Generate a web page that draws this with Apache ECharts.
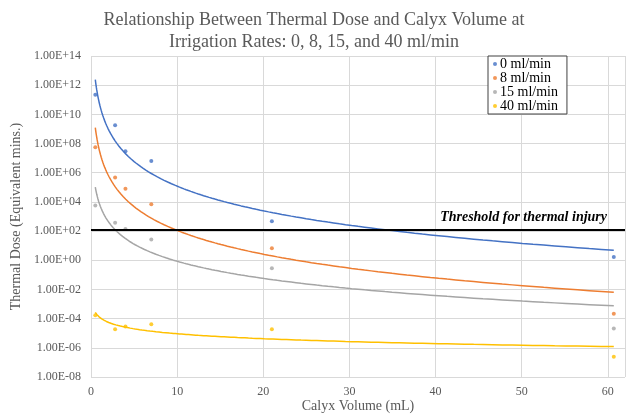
<!DOCTYPE html>
<html>
<head>
<meta charset="utf-8">
<script src="https://cdn.jsdelivr.net/npm/echarts@6/dist/echarts.min.js"></script>
<style>
html,body{margin:0;padding:0;background:#fff;}
#chart{width:628px;height:414px;}
</style>
</head>
<body>
<div id="chart"></div>
<script>
// ---- data ----
const calyxVolume = [0.5, 2.8, 4, 7, 21, 60.7];
const seriesNames = ['0 ml/min', '8 ml/min', '15 ml/min', '40 ml/min'];
const dose0  = [2.2e11, 1.8e9, 3.0e7, 6.3e6, 4.7e2, 1.7];
const dose8  = [5.5e7, 4.8e5, 8.0e4, 7.0e3, 6.6, 2.2e-4];
const dose15 = [5.6e3, 3.8e2, 1.4e2, 27, 0.28, 2.1e-5];
const dose40 = [1.7e-4, 1.9e-5, 2.9e-5, 4.2e-5, 1.9e-5, 2.4e-7];
const thresholdValue = 120;
const thresholdLabel = 'Threshold for thermal injury';
const yTickExpMin = -8, yTickExpMax = 14;

const colors = ['#4472C4', '#ED7D31', '#A5A5A5', '#FFC000'];
const FONT = '"Liberation Serif", "Times New Roman", serif';
const TXT = '#595959';

// power trendline (least squares in log-log space, like Excel's power trendline)
function powerFit(xs, ys) {
  const lx = xs.map(Math.log10), ly = ys.map(Math.log10);
  const n = lx.length;
  const mx = lx.reduce((a, b) => a + b, 0) / n;
  const my = ly.reduce((a, b) => a + b, 0) / n;
  let sxy = 0, sxx = 0;
  for (let i = 0; i < n; i++) { sxy += (lx[i] - mx) * (ly[i] - my); sxx += (lx[i] - mx) * (lx[i] - mx); }
  const b = sxy / sxx, a = my - b * mx;
  const x0 = Math.min(...xs), x1 = Math.max(...xs);
  const pts = [];
  const N = 200;
  for (let i = 0; i <= N; i++) {
    const x = Math.pow(10, Math.log10(x0) + (Math.log10(x1) - Math.log10(x0)) * i / N);
    pts.push([x, Math.pow(10, a + b * Math.log10(x))]);
  }
  return pts;
}

const allDose = [dose0, dose8, dose15, dose40];
const series = [];
allDose.forEach((d, i) => {
  series.push({
    name: seriesNames[i] + ' trend', type: 'line', data: powerFit(calyxVolume, d),
    showSymbol: false, symbol: 'none', silent: true,
    lineStyle: { color: colors[i], width: 1.5 }, z: 2
  });
});
allDose.forEach((d, i) => {
  series.push({
    name: seriesNames[i], type: 'scatter',
    data: calyxVolume.map((x, j) => [x, d[j]]),
    symbol: 'circle', symbolSize: 4,
    itemStyle: { color: colors[i] }, z: 4
  });
});
series[0].markLine = {
  silent: true, symbol: ['none', 'none'],
  lineStyle: { color: '#000', width: 2, type: 'solid' },
  label: { show: false },
  data: [{ yAxis: thresholdValue }]
};

function fmtE(v) {
  const e = Math.round(Math.log10(v));
  const m = v / Math.pow(10, e);
  const s = e < 0 ? '-' : '+';
  const ae = Math.abs(e);
  return m.toFixed(2) + 'E' + s + (ae < 10 ? '0' + ae : '' + ae);
}

const chart = echarts.init(document.getElementById('chart'), null, { renderer: 'canvas' });
chart.setOption({
  animation: false,
  backgroundColor: '#fff',
  textStyle: { fontFamily: FONT },
  title: {
    text: 'Relationship Between Thermal Dose and Calyx Volume at\nIrrigation Rates: 0, 8, 15, and 40 ml/min',
    left: 'center', top: 9, padding: 0,
    textStyle: { fontFamily: FONT, fontSize: 18, fontWeight: 'normal', color: TXT, lineHeight: 22 }
  },
  legend: {
    data: seriesNames,
    orient: 'vertical', left: 488, top: 56,
    padding: [1, 9, 1, 5], itemGap: 0,
    icon: 'circle', itemWidth: 4, itemHeight: 4,
    backgroundColor: '#fff', borderColor: '#404040', borderWidth: 1,
    textStyle: { fontFamily: FONT, fontSize: 14, color: '#000', lineHeight: 14, padding: [0, 0, 0, -2] }
  },
  grid: { left: 91, right: 3, top: 56, bottom: 37, containLabel: false, outerBoundsMode: 'none' },
  xAxis: {
    type: 'value', min: 0, max: 62, interval: 10,
    name: 'Calyx Volume (mL)', nameLocation: 'middle', nameGap: 22, nameMoveOverlap: false,
    nameTextStyle: { fontFamily: FONT, fontSize: 14, color: TXT },
    axisLine: { show: false }, axisTick: { show: false },
    axisLabel: { fontFamily: FONT, fontSize: 12, color: TXT, margin: 9, showMaxLabel: false },
    splitLine: { show: true, lineStyle: { color: '#d9d9d9', width: 1 } }
  },
  yAxis: {
    type: 'log', logBase: 10,
    min: Math.pow(10, yTickExpMin), max: Math.pow(10, yTickExpMax), interval: 2,
    name: 'Thermal Dose (Equivalent mins.)', nameLocation: 'middle', nameGap: 68, nameMoveOverlap: false,
    nameTextStyle: { fontFamily: FONT, fontSize: 14, color: TXT },
    axisLine: { show: false }, axisTick: { show: false },
    axisLabel: { fontFamily: FONT, fontSize: 12, color: TXT, margin: 10, formatter: fmtE },
    splitLine: { show: true, lineStyle: { color: '#d9d9d9', width: 1 } }
  },
  graphic: [{
    type: 'text', right: 21, top: 210,
    style: { text: thresholdLabel, fontFamily: FONT, fontSize: 14, fontWeight: 'bold', fontStyle: 'italic', fill: '#000' }
  }],
  series: series
});
</script>
</body>
</html>
